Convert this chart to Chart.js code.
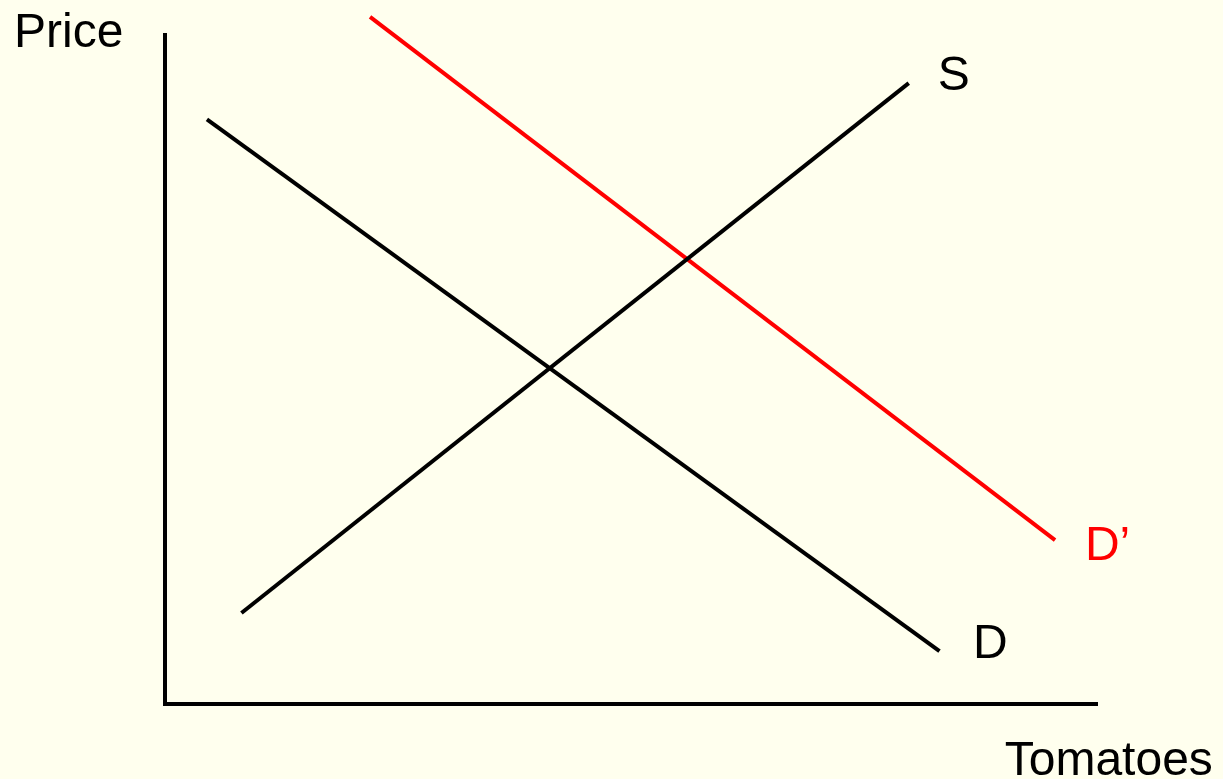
<!DOCTYPE html>
<html>
<head>
<meta charset="utf-8">
<script src="https://cdn.jsdelivr.net/npm/chart.js@4/dist/chart.umd.min.js"></script>
<style>
  html, body { margin: 0; padding: 0; background: #FFFFEE; }
  #wrap { width: 1223px; height: 779px; }
</style>
</head>
<body>
<div id="wrap"><canvas id="chart_tomatoes"></canvas></div>
<script>
// curve end points, in price / quantity units (0..100)
var demandX = [4.5, 83.1];
var demandY = [87.4, 7.9];
var supplyX = [8.2, 79.8];
var supplyY = [13.6, 92.8];
var newDemandX = [22.0, 95.5];
var newDemandY = [102.7, 24.5];

var axisLabelX = 'Tomatoes';
var axisLabelY = 'Price';

function pts(xs, ys) {
    return xs.map(function (x, i) { return { x: x, y: ys[i] }; });
}

// text placed next to the curves (left edge, baseline) in data units
var annotations = [
    { text: 'S', x: 82.9, y: 91.8, color: '#000000' },
    { text: 'D\u2019', x: 98.7, y: 21.5, color: '#FF0000' },
    { text: 'D', x: 86.7, y: 6.9, color: '#000000' },
    { text: axisLabelX, x: 90.1, y: -10.6, color: '#000000' },
    { text: axisLabelY, x: -16.2, y: 98.2, color: '#000000' }
];

var chart_tomatoes = new Chart(document.getElementById('chart_tomatoes'), {
    type: 'scatter',
    data: {
        datasets: [
            {
                label: 'D',
                data: pts(demandX, demandY),
                showLine: true,
                borderColor: '#000000',
                borderWidth: 4,
                borderCapStyle: 'butt',
                pointRadius: 0,
                clip: false
            },
            {
                label: 'S',
                data: pts(supplyX, supplyY),
                showLine: true,
                borderColor: '#000000',
                borderWidth: 4,
                borderCapStyle: 'butt',
                pointRadius: 0,
                clip: false
            },
            {
                label: "D'",
                data: pts(newDemandX, newDemandY),
                showLine: true,
                borderColor: '#FF0000',
                borderWidth: 4,
                borderCapStyle: 'butt',
                pointRadius: 0,
                clip: false
            }
        ]
    },
    options: {
        animation: false,
        responsive: true,
        maintainAspectRatio: false,
        layout: {
            padding: { left: 165, top: 35, right: 126, bottom: 75 }
        },
        plugins: {
            legend: { display: false },
            tooltip: { enabled: false }
        },
        scales: {
            x: {
                type: 'linear',
                min: 0,
                max: 100,
                grid: { display: false, drawTicks: false },
                ticks: { display: false },
                border: { display: true, color: '#000000', width: 4 }
            },
            y: {
                type: 'linear',
                min: 0,
                max: 100,
                grid: { display: false, drawTicks: false },
                ticks: { display: false },
                border: { display: true, color: '#000000', width: 4 }
            }
        }
    },
    plugins: [{
        id: 'curveLabels',
        afterDraw: (chart) => {
            const ctx = chart.ctx;
            const xs = chart.scales.x, ys = chart.scales.y;
            ctx.save();
            ctx.font = '48px "Liberation Sans", Arial, sans-serif';
            ctx.textAlign = 'left';
            ctx.textBaseline = 'alphabetic';
            annotations.forEach(function (a) {
                ctx.fillStyle = a.color;
                ctx.fillText(a.text, xs.getPixelForValue(a.x), ys.getPixelForValue(a.y));
            });
            ctx.restore();
        }
    }, {
        id: 'paper',
        beforeDraw: (chart) => {
            const ctx = chart.ctx;
            ctx.save();
            ctx.globalCompositeOperation = 'destination-over';
            ctx.fillStyle = '#FFFFEE';
            ctx.fillRect(0, 0, chart.width, chart.height);
            ctx.restore();
        }
    }]
});
</script>
</body>
</html>
